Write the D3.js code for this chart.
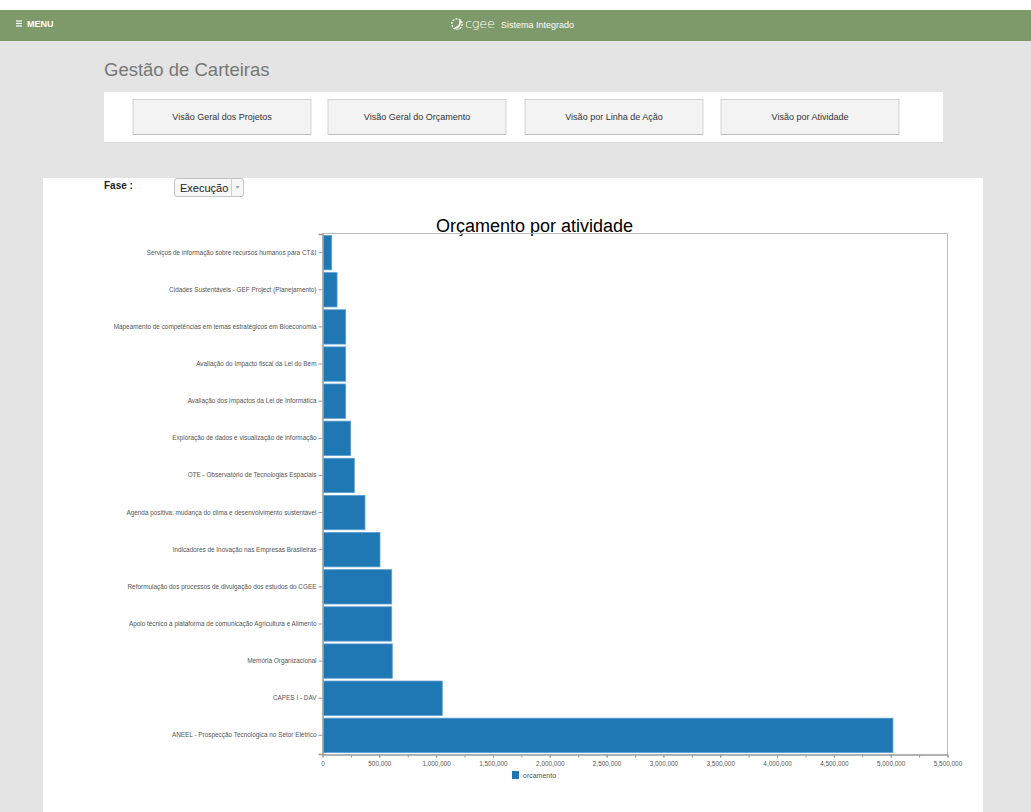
<!DOCTYPE html>
<html>
<head>
<meta charset="utf-8">
<script src="https://cdn.jsdelivr.net/npm/d3@7"></script>
<style>
  body { margin: 0; background: #fff; font-family: "Liberation Sans", Arial, Helvetica, sans-serif; }
  svg { display: block; }
</style>
</head>
<body>
<svg id="page" width="1031" height="812"></svg>
<script>
// ---- data ----
const categories = [
  "Serviços de informação sobre recursos humanos para CT&I",
  "Cidades Sustentáveis - GEF Project (Planejamento)",
  "Mapeamento de competências em temas estratégicos em Bioeconomia",
  "Avaliação do Impacto fiscal da Lei do Bem",
  "Avaliação dos Impactos da Lei de Informática",
  "Exploração de dados e visualização de informação",
  "OTE - Observatório de Tecnologias Espaciais",
  "Agenda positiva: mudança do clima e desenvolvimento sustentável",
  "Indicadores de Inovação nas Empresas Brasileiras",
  "Reformulação dos processos de divulgação dos estudos do CGEE",
  "Apoio técnico à plataforma de comunicação Agricultura e Alimento",
  "Memória Organizacional",
  "CAPES I - DAV",
  "ANEEL - Prospecção Tecnológica no Setor Elétrico"
];
const orcamento = [81000, 128000, 204000, 204000, 204000, 248000, 280000, 374000, 506000, 609000, 609000, 614000, 1054000, 5020000];
const xTicks = [0, 500000, 1000000, 1500000, 2000000, 2500000, 3000000, 3500000, 4000000, 4500000, 5000000, 5500000];
const xMinorTicks = d3.range(0, 5500001, 250000);
const navButtons = ["Visão Geral dos Projetos", "Visão Geral do Orçamento", "Visão por Linha de Ação", "Visão por Atividade"];
const chartTitle = "Orçamento por atividade";
const seriesName = "orcamento";

const svg = d3.select("#page");
const FONT = "'Liberation Sans', Arial, Helvetica, sans-serif";

// ---- page chrome ----
svg.append("rect").attr("x", 0).attr("y", 0).attr("width", 1031).attr("height", 812).attr("fill", "#e4e4e4");
svg.append("rect").attr("x", 0).attr("y", 0).attr("width", 1031).attr("height", 10).attr("fill", "#fff");
svg.append("rect").attr("x", 0).attr("y", 10).attr("width", 1031).attr("height", 31).attr("fill", "#7e996a");

// menu
const menuG = svg.append("g");
[21, 23.5, 26].forEach(y => menuG.append("rect").attr("x", 16).attr("y", y - 0.6).attr("width", 6).attr("height", 1.2).attr("fill", "#fff"));
menuG.append("text").attr("x", 27).attr("y", 27).attr("fill", "#fff").attr("font-size", 9).attr("font-weight", "bold")
  .attr("font-family", FONT).text("MENU");

// logo
const logo = svg.append("g");
logo.append("circle").attr("cx", 457).attr("cy", 24).attr("r", 5.2).attr("fill", "none").attr("stroke", "#fff").attr("stroke-width", 1.3).attr("stroke-dasharray", "2 1.2");
logo.append("path").attr("d", "M455,28 Q461,27 460,20").attr("fill", "none").attr("stroke", "#fff").attr("stroke-width", 1.6);
logo.append("text").attr("x", 465).attr("y", 28).attr("fill", "#fff").attr("font-size", 13).attr("font-weight", 300)
  .attr("font-family", "'DejaVu Sans', sans-serif").attr("letter-spacing", -0.3).text("cgee");
logo.append("text").attr("x", 501).attr("y", 27.5).attr("fill", "#fff").attr("font-size", 9)
  .attr("font-family", FONT).text("Sistema Integrado");

// heading
svg.append("text").attr("x", 104).attr("y", 76).attr("fill", "#777").attr("font-size", 18.5)
  .attr("font-family", FONT).text("Gestão de Carteiras");

// nav card
svg.append("rect").attr("x", 104).attr("y", 93).attr("width", 839).attr("height", 50).attr("fill", "#d6d6d6");
svg.append("rect").attr("x", 104).attr("y", 92).attr("width", 839).attr("height", 50).attr("fill", "#fff");
const btnX = [133, 328, 525, 721];
navButtons.forEach((t, i) => {
  const g = svg.append("g");
  g.append("rect").attr("x", btnX[i]).attr("y", 99.5).attr("width", 178).attr("height", 35).attr("fill", "#f3f3f3")
    .attr("stroke", "#d3d3d3").attr("stroke-width", 1);
  g.append("line").attr("x1", btnX[i]).attr("x2", btnX[i] + 178).attr("y1", 134.5).attr("y2", 134.5).attr("stroke", "#bbb");
  g.append("text").attr("x", btnX[i] + 89).attr("y", 119.5).attr("text-anchor", "middle").attr("fill", "#333")
    .attr("font-size", 9).attr("font-family", FONT).text(t);
});

// white panel
svg.append("rect").attr("x", 43).attr("y", 178).attr("width", 940).attr("height", 634).attr("fill", "#fff");

// Fase selector
svg.append("text").attr("x", 104).attr("y", 189).attr("fill", "#222").attr("font-size", 10).attr("font-weight", "bold")
  .attr("font-family", FONT).text("Fase :");
const sel = svg.append("g");
sel.append("rect").attr("x", 174.5).attr("y", 178.5).attr("width", 69).attr("height", 18).attr("rx", 2.5)
  .attr("fill", "#f7f7f7").attr("stroke", "#c4c4c4");
sel.append("line").attr("x1", 231.5).attr("x2", 231.5).attr("y1", 179).attr("y2", 196).attr("stroke", "#d0d0d0");
sel.append("text").attr("x", 180).attr("y", 191.5).attr("fill", "#222").attr("font-size", 11)
  .attr("font-family", FONT).text("Execução");
sel.append("path").attr("d", "M235.5,186 L239.5,186 L237.5,189 Z").attr("fill", "#aaa");

// ---- chart ----
const m = { left: 322.5, right: 947.5, top: 233.5, bottom: 754.5 };
const x = d3.scaleLinear().domain([0, 5500000]).range([m.left, m.right]);
const y = d3.scaleBand().domain(categories).range([m.top + 0.5, m.bottom - 0.5]).paddingInner(0.075).paddingOuter(0.04);

svg.append("text").attr("x", 534.5).attr("y", 232).attr("text-anchor", "middle").attr("fill", "#000")
  .attr("font-size", 18).attr("font-family", FONT).text(chartTitle);

// frame top/right
svg.append("path").attr("d", `M${m.left},${m.top}H${m.right}V${m.bottom}`).attr("fill", "none").attr("stroke", "#bbb").attr("stroke-width", 1);

// bars
svg.append("g").selectAll("rect").data(categories).join("rect")
  .attr("x", x(0) + 1)
  .attr("y", d => y(d))
  .attr("width", (d, i) => x(orcamento[i]) - x(0) - 1)
  .attr("height", y.bandwidth())
  .attr("fill", "#1f77b4")
  .attr("stroke", "#5d9fd0")
  .attr("stroke-width", 0.8);

// y axis
const yAxis = svg.append("g").attr("transform", `translate(${m.left},0)`)
  .call(d3.axisLeft(y).tickSize(4).tickPadding(2));
yAxis.select(".domain").attr("stroke", "#999").attr("stroke-width", 1.5);
yAxis.selectAll(".tick line").attr("stroke", "#999");
yAxis.selectAll("text").attr("fill", "#555").attr("font-size", 6.4).attr("font-family", FONT);

// x axis
const xAxisMinor = svg.append("g").attr("transform", `translate(0,${m.bottom})`)
  .call(d3.axisBottom(x).tickValues(xMinorTicks).tickSize(3).tickFormat(""));
xAxisMinor.select(".domain").remove();
xAxisMinor.selectAll(".tick line").attr("stroke", "#999");
const xAxis = svg.append("g").attr("transform", `translate(0,${m.bottom})`)
  .call(d3.axisBottom(x).tickValues(xTicks).tickSize(3).tickPadding(4).tickFormat(d3.format(",")).tickSizeOuter(0));
xAxis.select(".domain").attr("stroke", "#999").attr("stroke-width", 1.5);
xAxis.selectAll(".tick line").attr("stroke", "#999");
xAxis.selectAll("text").attr("fill", "#555").attr("font-size", 6.4).attr("font-family", FONT);

// legend
svg.append("rect").attr("x", 512).attr("y", 771).attr("width", 7).attr("height", 8).attr("fill", "#1f77b4");
svg.append("text").attr("x", 523).attr("y", 778).attr("fill", "#555").attr("font-size", 7).attr("font-family", FONT).text(seriesName);
</script>
</body>
</html>
